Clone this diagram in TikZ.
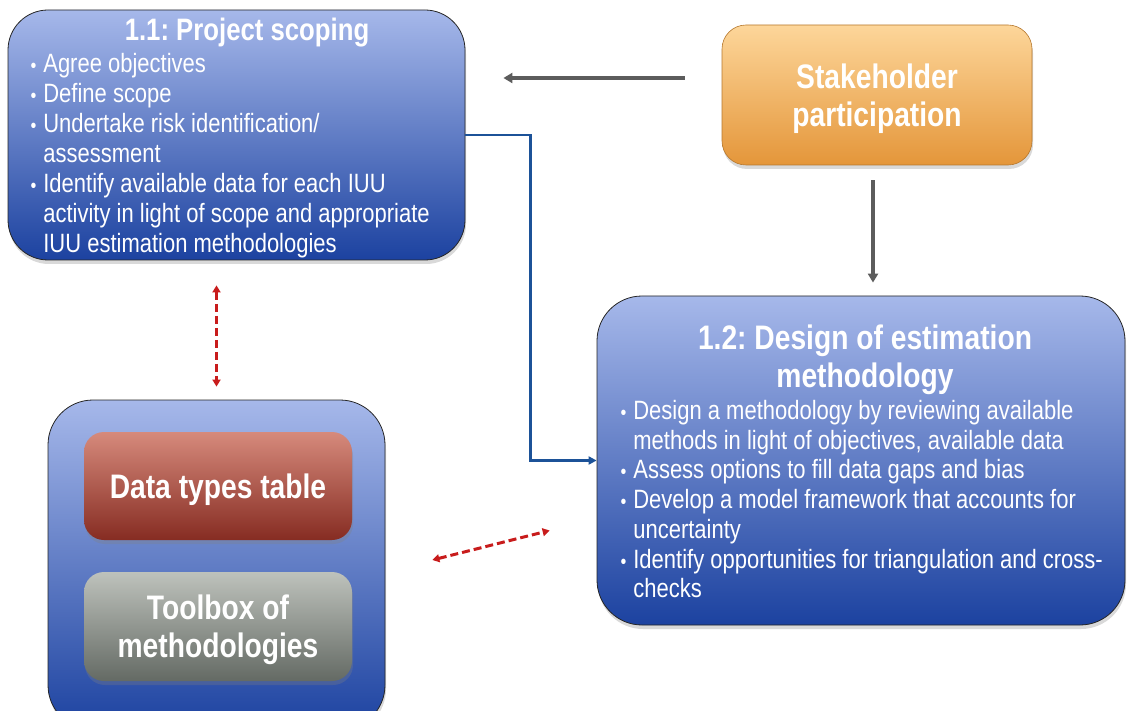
\documentclass[tikz,border=0pt]{standalone}
\usepackage{fontspec}
\setmainfont{Liberation Sans}[FakeStretch=0.83]
\usetikzlibrary{arrows.meta,shadows}
\frenchspacing

\definecolor{blueT}{RGB}{166,184,234}
\definecolor{blueB}{RGB}{28,66,160}
\definecolor{orangeT}{RGB}{253,214,154}
\definecolor{orangeB}{RGB}{228,150,58}
\definecolor{redT}{RGB}{214,138,124}
\definecolor{redB}{RGB}{134,44,34}
\definecolor{grayT}{RGB}{190,194,188}
\definecolor{grayB}{RGB}{100,106,100}
\definecolor{arrowgray}{RGB}{92,92,92}
\definecolor{linkblue}{RGB}{28,82,152}
\definecolor{dashred}{RGB}{200,28,28}

\newcommand{\labelfont}{\bfseries\fontsize{34}{38}\selectfont}
\newcommand{\headfont}{\bfseries\fontsize{31}{36}\selectfont}
\newcommand{\listfont}{\fontsize{26.5}{30}\selectfont}
\newcommand{\pt}{\fontsize{20}{20}\selectfont\textbullet}

\begin{document}
\begin{tikzpicture}[x=1pt, y=-1pt, text=white,
  box/.style={inner sep=0pt, align=center,
    drop shadow={shadow xshift=1pt, shadow yshift=-4pt, opacity=0.3}},
  phase/.style={box, draw=black!85, line width=0.8pt, top color=blueT, bottom color=blueB},
  tool/.style={box, rounded corners=20pt, minimum width=268pt, text depth=0pt, font=\labelfont}]
\clip (0,0) rectangle (1127,711);

% boxes
\node[phase, rounded corners=40pt, minimum width=457pt, minimum height=250pt] (p11) at (236.5,135) {};
\node[box, draw=orangeB!80!black, line width=0.6pt, rounded corners=24pt, top color=orangeT, bottom color=orangeB,
  minimum width=310pt, minimum height=140pt, text depth=0pt, font=\labelfont] (stake) at (877,95) {Stakeholder\\participation};
\node[phase, rounded corners=45pt, minimum width=528pt, minimum height=329pt] (p12) at (861,460.5) {};
\node[phase, rounded corners=45pt, minimum width=337pt, minimum height=330pt] (kit) at (216.5,565) {};
\node[tool, top color=redT, bottom color=redB, minimum height=108pt] (data) at (218,486) {Data types table};
\node[tool, top color=grayT, bottom color=grayB, minimum height=109pt] (methods) at (218,626.5) {Toolbox of\\methodologies};

% texts of the two phases
\node[anchor=base, font=\headfont] (t11) at (247,41) {1.1: Project scoping};
\node[anchor=base west, font=\listfont] (l11) at (27,72.5) {\begin{tabular}[t]{@{}l@{\hspace{7pt}}l@{}}
\pt & Agree objectives\\
\pt & Define scope\\
\pt & Undertake risk identification/\\
    & assessment\\
\pt & Identify available data for each IUU\\
    & activity in light of scope and appropriate\\
    & IUU estimation methodologies
\end{tabular}};
\node[anchor=base, align=center, font=\labelfont] (t12) at (865,387) {1.2: Design of estimation\\methodology};
\node[anchor=base west, font=\fontsize{26.5}{29.7}\selectfont] (l12) at (617,419.5) {\begin{tabular}[t]{@{}l@{\hspace{7pt}}l@{}}
\pt & Design a methodology by reviewing available\\
    & methods in light of objectives, available data\\
\pt & Assess options to fill data gaps and bias\\
\pt & Develop a model framework that accounts for\\
    & uncertainty\\
\pt & Identify opportunities for triangulation and cross-\\
    & checks
\end{tabular}};

% connectors
\begin{scope}[line width=3.5pt, arrowgray, -{Triangle[length=9pt,width=10pt]}]
\draw[shorten <=37pt, shorten >=38pt] ([yshift=17pt]stake.west) -- ([yshift=17pt]stake.west -| p11.east);
\draw[shorten <=15pt, shorten >=13pt] ([xshift=-4pt]stake.south) -- ([xshift=-4pt]stake.south |- p12.north);
\end{scope}
\draw[line width=2.5pt, linkblue, -{Triangle[length=8pt,width=8pt]}] (p11.east) -- ++(65,0) |- (p12.west);
\begin{scope}[line width=3pt, dashred, dash pattern=on 8pt off 4pt, {Triangle[length=7pt,width=8pt]}-{Triangle[length=7pt,width=8pt]}]
\draw[shorten <=25pt, shorten >=13pt] (kit.north |- p11.south) -- (kit.north);
\draw ([xshift=47pt,yshift=5pt]kit.east) -- ([xshift=-47pt,yshift=-70pt]p12.west);
\end{scope}
\end{tikzpicture}
\end{document}
